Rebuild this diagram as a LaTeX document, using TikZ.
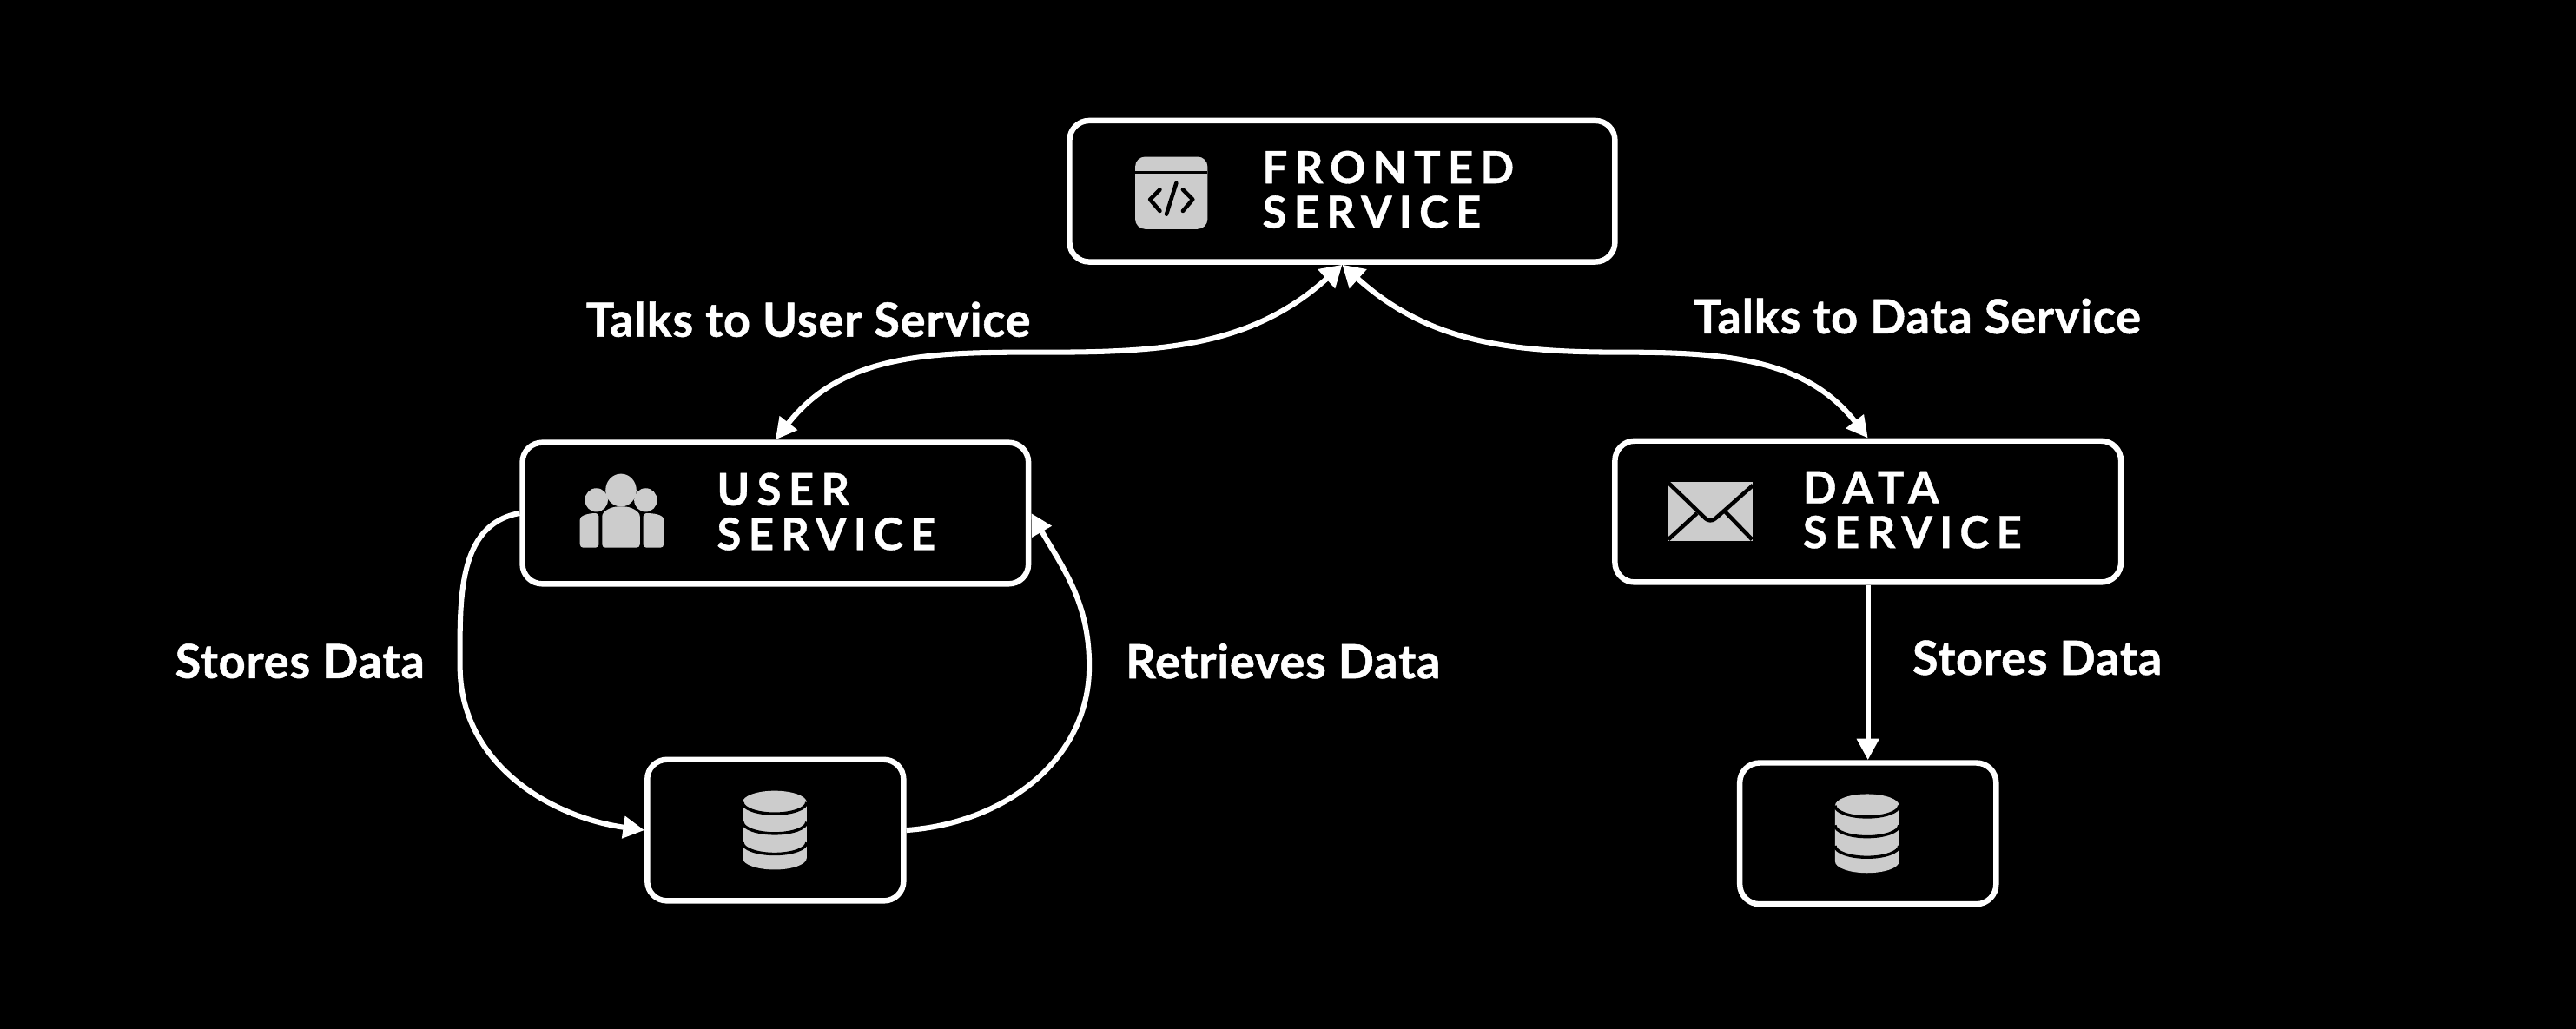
\documentclass[tikz,border=0pt]{standalone}
\usepackage{fontspec}
\setmainfont{Lato}
\newfontfamily\svcfont[LetterSpace=16,BoldFeatures={FakeBold=0.7,LetterSpace=16}]{Lato}
\newfontfamily\linkfont[LetterSpace=1.5,BoldFeatures={FakeBold=0.9,LetterSpace=1.5}]{Lato}
\usetikzlibrary{arrows.meta}
\definecolor{icongray}{HTML}{CCCCCC}
\tikzset{
	svcbox/.style={draw=white,line width=1.7pt,rounded corners=6pt,inner sep=0pt},
	svctext/.style={anchor=west,text=white,align=left,font=\svcfont\bfseries\fontsize{13.5}{13.6}\selectfont,inner sep=0pt},
	linktext/.style={text=white,font=\linkfont\bfseries\fontsize{14.3}{15}\selectfont,inner sep=0pt},
	link/.style={draw=white,line width=1.6pt,{Triangle[length=6.5pt,width=7.5pt]}-{Triangle[length=6.5pt,width=6.5pt]}},
	onelink/.style={draw=white,line width=1.6pt,-{Triangle[length=6.5pt,width=6.5pt]}}
}
\newcommand{\dbicon}[1]{
	\begin{scope}[shift={(#1)}]
		\fill[icongray] (-19.5,17) arc[start angle=180,end angle=0,x radius=9.75pt,y radius=3.5pt] -- (19.5,-17) arc[start angle=0,end angle=-180,x radius=9.75pt,y radius=3.5pt] -- cycle;
		\foreach \ylev in {17,5,-7.5}
			\draw[black,line width=0.9pt] (-19.5,\ylev) arc[start angle=180,end angle=360,x radius=9.75pt,y radius=3.5pt];
	\end{scope}
}
\begin{document}
\begin{tikzpicture}[x=0.5pt,y=0.5pt]
	%background
	\fill[black] (0,0) rectangle (1568,626.45);
	\useasboundingbox (0,0) rectangle (1568,626.45);

	%boxes
	\node[svcbox,minimum width=166pt,minimum height=43pt] (front) at (817,510) {};
	\node[svcbox,minimum width=154pt,minimum height=43pt] (user) at (472,314) {};
	\node[svcbox,minimum width=154pt,minimum height=43pt] (data) at (1137,315) {};
	\node[svcbox,minimum width=78pt,minimum height=43pt] (dbleft) at (472,121) {};
	\node[svcbox,minimum width=78pt,minimum height=43pt] (dbright) at (1137,119) {};

	%box texts
	\node[svctext] (fronttext) at (768,511) {FRONTED\\SERVICE};
	\node[svctext] (usertext) at (436,315) {USER\\SERVICE};
	\node[svctext] (datatext) at (1097,316) {DATA\\SERVICE};

	%code icon
	\fill[icongray,rounded corners=3pt] (691,487) rectangle (735,531);
	\fill[black] (691,520.5) rectangle (735,522.5);
	\draw[black,line width=1.2pt,line cap=round,line join=round] (706,511) -- (700,505) -- (706,498);
	\draw[black,line width=1.2pt,line cap=round] (716,515) -- (710,496);
	\draw[black,line width=1.2pt,line cap=round,line join=round] (720,511) -- (726,505) -- (720,498);

	%users icon
	\fill[icongray] (378,328) ellipse[x radius=4.7pt,y radius=5pt];
	\fill[icongray] (363,322) ellipse[x radius=3.5pt,y radius=3.6pt];
	\fill[icongray] (393,322) ellipse[x radius=3.5pt,y radius=3.6pt];
	\fill[icongray,rounded corners=1pt] (366.5,293) -- (366.5,310) to[out=90,in=180] (378,318) to[out=0,in=90] (389.5,310) -- (389.5,293) -- cycle;
	\fill[icongray,rounded corners=1pt] (353,293) -- (353,308) to[out=90,in=180] (364.5,314) -- (364.5,293) -- cycle;
	\fill[icongray,rounded corners=1pt] (391.5,293) -- (391.5,314) to[out=0,in=90] (404,308) -- (404,293) -- cycle;

	%mail icon
	\fill[icongray] (1015,297) rectangle (1067,333);
	\draw[black,line width=1.2pt,rounded corners=2pt] (1015,333) -- (1041,308) -- (1067,331);
	\draw[black,line width=1.2pt] (1015.5,298) -- (1033,314);
	\draw[black,line width=1.2pt] (1050,315) -- (1066.5,298);

	%db icons
	\dbicon{471.5,121}
	\dbicon{1136.5,119}

	%free points of the curves
	\coordinate (leftmid) at (640,412);
	\coordinate (rightmid) at (985,412);
	\coordinate (storemid) at (280,221);
	\coordinate (fetchmid) at (663,221);

	%links
	\draw[link] (front.south) to[out=222,in=0] (leftmid) to[out=180,in=52] (user.north);
	\draw[link] (front.south) to[out=318,in=180] (rightmid) to[out=0,in=128] (data.north);
	\draw[onelink] (user.west) to[out=190,in=90] (storemid) to[out=270,in=172] (dbleft.west);
	\draw[onelink] (dbleft.east) to[out=4,in=270] (fetchmid) to[out=90,in=-60] (user.east);
	\draw[onelink] (data.south) -- (dbright.north);

	%link labels
	\node[linktext] (talksuser) at (492,432) {Talks to User Service};
	\node[linktext] (talksdata) at (1167,434) {Talks to Data Service};
	\node[linktext] (storesleft) at (182.5,224) {Stores Data};
	\node[linktext] (retrieves) at (781,224) {Retrieves Data};
	\node[linktext] (storesright) at (1240,226) {Stores Data};
\end{tikzpicture}
\end{document}
